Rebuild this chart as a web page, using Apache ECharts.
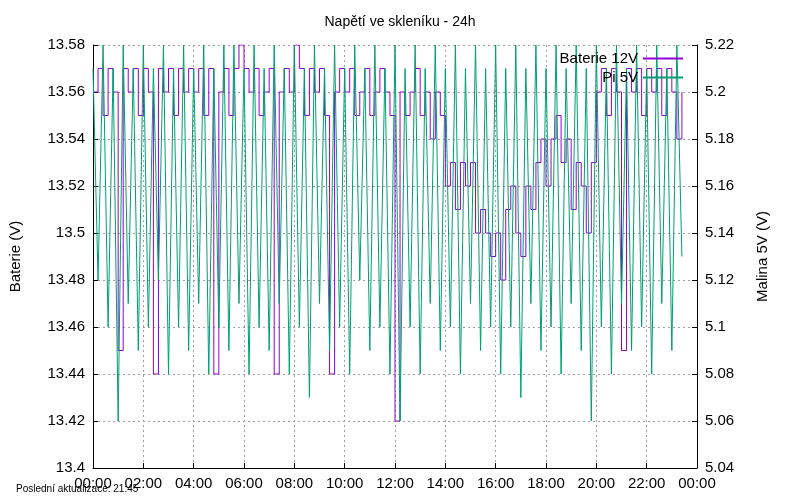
<!DOCTYPE html>
<html><head><meta charset="utf-8">
<script src="https://cdn.jsdelivr.net/npm/echarts@6/dist/echarts.min.js"></script>
<style>html,body{margin:0;background:#fff}#c{width:800px;height:500px}</style>
</head><body><div id="c"></div>
<script>
const stepHours = 0.2; // sampling interval of the log
const baterie = [
13.56,13.57,13.55,13.57,13.56,13.45,13.57,13.56,13.57,13.55,
13.57,13.56,13.44,13.57,13.56,13.57,13.55,13.57,13.56,13.57,
13.56,13.57,13.55,13.57,13.44,13.56,13.57,13.55,13.57,13.58,
13.57,13.56,13.57,13.55,13.56,13.57,13.44,13.56,13.57,13.56,
13.58,13.57,13.55,13.57,13.56,13.57,13.55,13.44,13.56,13.57,
13.56,13.57,13.55,13.56,13.57,13.55,13.56,13.57,13.56,13.55,
13.42,13.56,13.55,13.56,13.57,13.55,13.56,13.54,13.56,13.55,
13.52,13.53,13.51,13.53,13.52,13.53,13.50,13.51,13.50,13.49,
13.50,13.48,13.51,13.52,13.50,13.49,13.52,13.51,13.53,13.54,
13.52,13.54,13.55,13.53,13.54,13.51,13.53,13.52,13.50,13.53,
13.56,13.57,13.55,13.57,13.56,13.45,13.57,13.56,13.57,13.55,
13.57,13.56,13.57,13.55,13.57,13.56,13.54,13.56];
const pi5v = [
5.21,5.12,5.22,5.10,5.21,5.06,5.22,5.11,5.21,5.09,
5.22,5.10,5.21,5.12,5.22,5.08,5.21,5.10,5.22,5.09,
5.21,5.11,5.22,5.08,5.21,5.10,5.22,5.09,5.22,5.11,
5.21,5.08,5.22,5.10,5.21,5.09,5.22,5.11,5.21,5.08,
5.22,5.10,5.21,5.07,5.22,5.11,5.21,5.09,5.22,5.10,
5.21,5.08,5.22,5.12,5.21,5.09,5.22,5.10,5.21,5.08,
5.22,5.06,5.21,5.10,5.22,5.08,5.21,5.11,5.22,5.09,
5.21,5.10,5.22,5.08,5.21,5.11,5.22,5.09,5.21,5.10,
5.22,5.08,5.21,5.10,5.22,5.07,5.21,5.11,5.22,5.09,
5.21,5.10,5.22,5.08,5.21,5.11,5.22,5.09,5.21,5.06,
5.22,5.10,5.21,5.08,5.22,5.11,5.21,5.09,5.22,5.10,
5.21,5.08,5.22,5.11,5.21,5.09,5.22,5.13];
const xTicks = ['00:00','02:00','04:00','06:00','08:00','10:00','12:00','14:00','16:00','18:00','20:00','22:00','00:00'];

const font = 'Liberation Sans, Arial, sans-serif';
const grid = { lineStyle: { type: [2, 3], color: '#a0a0a0' } };
const chart = echarts.init(document.getElementById('c'));
chart.setOption({
    animation: false,
    textStyle: { fontFamily: font },
    title: { text: 'Napětí ve skleníku - 24h', left: 'center', top: 10,
        textStyle: { fontSize: 14, fontWeight: 'normal', color: '#000' } },
    legend: { right: 112, top: 46, orient: 'vertical', align: 'right', itemWidth: 40, itemHeight: 2,
        itemGap: 4, icon: 'rect', textStyle: { fontSize: 15, color: '#000' } },
    graphic: [{ type: 'text', left: 16, top: 484,
        style: { text: 'Poslední aktualizace: 21:45', fontSize: 10, fill: '#000', fontFamily: font } }],
    grid: { left: 92, right: 103, top: 45, bottom: 32 },
    xAxis: { type: 'value', min: 0, max: 24, interval: 2,
        axisLine: { lineStyle: { color: '#000' } }, axisTick: { inside: true },
        axisLabel: { color: '#000', fontSize: 15, formatter: v => xTicks[v / 2] },
        splitLine: { show: true, ...grid } },
    yAxis: [
        { type: 'value', min: 13.4, max: 13.58, interval: 0.02, name: 'Baterie (V)',
          nameLocation: 'middle', nameGap: 70, nameTextStyle: { fontSize: 15, color: '#000' },
          axisLine: { show: true, lineStyle: { color: '#000' } }, axisTick: { inside: true },
          axisLabel: { color: '#000', fontSize: 15, formatter: v => +v.toFixed(2) + '' },
          splitLine: { show: true, ...grid } },
        { type: 'value', min: 5.04, max: 5.22, interval: 0.02, name: 'Malina 5V (V)',
          nameLocation: 'middle', nameGap: 58, nameRotate: 90, nameTextStyle: { fontSize: 15, color: '#000' },
          axisLine: { show: true, lineStyle: { color: '#000' } }, axisTick: { inside: true },
          axisLabel: { color: '#000', fontSize: 15, formatter: v => +v.toFixed(2) + '' },
          splitLine: { show: false } }
    ],
    series: [
        { name: 'Baterie 12V', type: 'line', yAxisIndex: 0, showSymbol: false, step: 'end',
          lineStyle: { width: 1, color: '#9400d3' }, itemStyle: { color: '#9400d3' },
          data: baterie.map((v, i) => [i * stepHours, v]) },
        { name: 'Pi 5V', type: 'line', yAxisIndex: 1, showSymbol: false,
          lineStyle: { width: 1, color: '#009e73' }, itemStyle: { color: '#009e73' },
          data: pi5v.map((v, i) => [i * stepHours, v]) }
    ]
});
</script></body></html>
